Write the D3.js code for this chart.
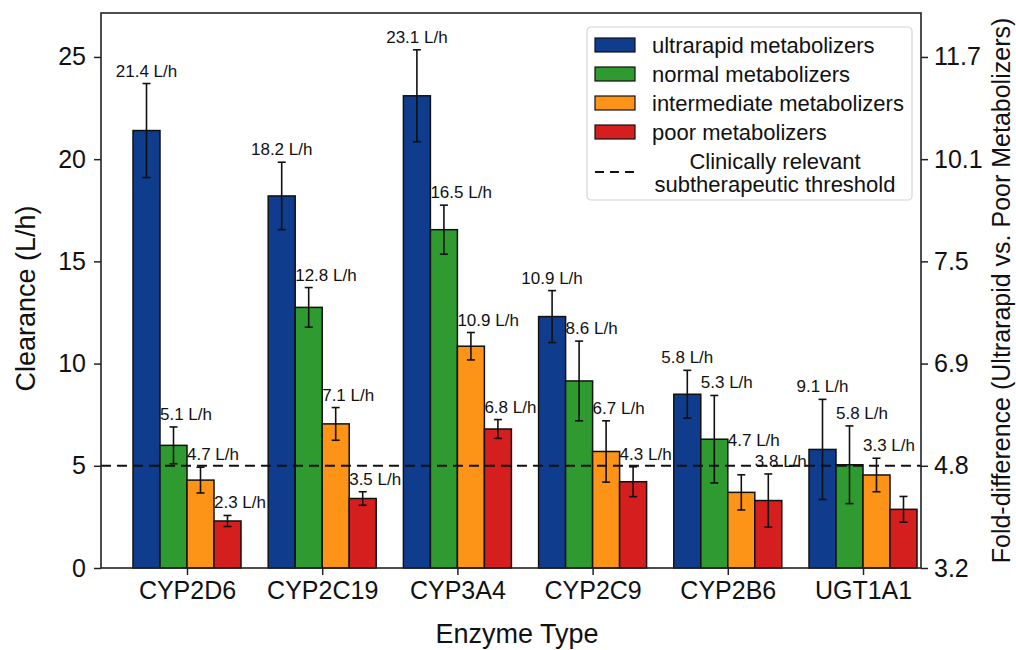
<!DOCTYPE html>
<html>
<head>
<meta charset="utf-8">
<script src="https://cdn.jsdelivr.net/npm/d3@7"></script>
<style>
  body { margin: 0; background: #fff; }
  text { font-family: "Liberation Sans", Arial, sans-serif; fill: #111; }
</style>
</head>
<body>
<script>
var svgWidth = 1016;
var svgHeight = 650;

// data
var categories = ['CYP2D6', 'CYP2C19', 'CYP3A4', 'CYP2C9', 'CYP2B6', 'UGT1A1'];
var seriesNames = ['ultrarapid metabolizers', 'normal metabolizers', 'intermediate metabolizers', 'poor metabolizers'];
var seriesColors = ['#0f3c8c', '#2e9a30', '#fd9317', '#d51e1e'];

var ultrarapid = [21.4, 18.2, 23.1, 12.3, 8.5, 5.8];
var ultrarapidErr = [2.3, 1.65, 2.25, 1.27, 1.17, 2.45];
var normal = [6.0, 12.75, 16.55, 9.15, 6.3, 5.05];
var normalErr = [0.9, 0.97, 1.2, 1.95, 2.14, 1.9];
var intermediate = [4.3, 7.05, 10.85, 5.7, 3.7, 4.55];
var intermediateErr = [0.63, 0.8, 0.67, 1.5, 0.86, 0.82];
var poor = [2.3, 3.4, 6.8, 4.22, 3.3, 2.87];
var poorErr = [0.27, 0.33, 0.46, 0.73, 1.3, 0.63];

var ultrarapidLabels = ['21.4 L/h', '18.2 L/h', '23.1 L/h', '10.9 L/h', '5.8 L/h', '9.1 L/h'];
var normalLabels = ['5.1 L/h', '12.8 L/h', '16.5 L/h', '8.6 L/h', '5.3 L/h', '5.8 L/h'];
var intermediateLabels = ['4.7 L/h', '7.1 L/h', '10.9 L/h', '6.7 L/h', '4.7 L/h', '3.3 L/h'];
var poorLabels = ['2.3 L/h', '3.5 L/h', '6.8 L/h', '4.3 L/h', '3.8 L/h', null];

var threshold = 5;
var leftTicks = [0, 5, 10, 15, 20, 25];
var rightTickLabels = ['3.2', '4.8', '6.9', '7.5', '10.1', '11.7'];

var values = [ultrarapid, normal, intermediate, poor];
var errors = [ultrarapidErr, normalErr, intermediateErr, poorErr];
var labels = [ultrarapidLabels, normalLabels, intermediateLabels, poorLabels];

var margin = {top: 13, right: 95, bottom: 82, left: 101};
var plotW = svgWidth - margin.left - margin.right;
var plotH = svgHeight - margin.top - margin.bottom;

var svg = d3.select('body').append('svg')
  .attr('width', svgWidth)
  .attr('height', svgHeight);

var g = svg.append('g').attr('transform', 'translate(' + margin.left + ',' + margin.top + ')');

var y = d3.scaleLinear().domain([0, 27.15]).range([plotH, 0]);
var x = d3.scalePoint().domain(categories).range([86, 762]);
var xInner = d3.scaleBand().domain(d3.range(seriesNames.length)).range([-54, 54]);

// flatten into bar records
var bars = [];
seriesNames.forEach(function(name, s) {
  categories.forEach(function(cat, i) {
    bars.push({s: s, cat: cat, v: values[s][i], e: errors[s][i], label: labels[s][i]});
  });
});

g.selectAll('rect.bar')
  .data(bars)
  .enter()
  .append('rect')
  .attr('class', 'bar')
  .attr('x', function(d) { return x(d.cat) + xInner(d.s); })
  .attr('y', function(d) { return y(d.v); })
  .attr('width', xInner.bandwidth())
  .attr('height', function(d) { return y(0) - y(d.v); })
  .attr('fill', function(d) { return seriesColors[d.s]; })
  .attr('stroke', '#111')
  .attr('stroke-width', 1.5);

// error bars
var err = g.selectAll('g.err')
  .data(bars)
  .enter()
  .append('g')
  .attr('class', 'err')
  .attr('transform', function(d) { return 'translate(' + (x(d.cat) + xInner(d.s) + xInner.bandwidth() / 2) + ',0)'; });

err.append('line')
  .attr('y1', function(d) { return y(d.v + d.e); })
  .attr('y2', function(d) { return y(d.v - d.e); })
  .attr('stroke', '#111').attr('stroke-width', 1.6);
err.append('line')
  .attr('x1', -4).attr('x2', 4)
  .attr('y1', function(d) { return y(d.v + d.e); })
  .attr('y2', function(d) { return y(d.v + d.e); })
  .attr('stroke', '#111').attr('stroke-width', 1.6);
err.append('line')
  .attr('x1', -4).attr('x2', 4)
  .attr('y1', function(d) { return y(d.v - d.e); })
  .attr('y2', function(d) { return y(d.v - d.e); })
  .attr('stroke', '#111').attr('stroke-width', 1.6);

// value labels: first series centred, others start at bar's left edge
var valLabels = g.selectAll('text.val')
  .data(bars.filter(function(d) { return d.label; }))
  .enter()
  .append('text')
  .attr('class', 'val')
  .attr('x', function(d) {
    var left = x(d.cat) + xInner(d.s);
    return d.s === 0 ? left + xInner.bandwidth() / 2 : left;
  })
  .attr('y', function(d) { return y(d.v + d.e) - 7; })
  .attr('text-anchor', function(d) { return d.s === 0 ? 'middle' : 'start'; })
  .style('font-size', '17px')
  .text(function(d) { return d.label; });

// nudge colliding labels upward, right to left inside each group
categories.forEach(function(cat) {
  var nodes = valLabels.filter(function(d) { return d.cat === cat; }).nodes();
  nodes.sort(function(a, b) { return d3.select(b).datum().s - d3.select(a).datum().s; });
  for (var k = 1; k < nodes.length; k++) {
    var cur = nodes[k].getBBox();
    var nxt = nodes[k - 1].getBBox();
    var overlapX = cur.x + cur.width > nxt.x && nxt.x + nxt.width > cur.x;
    var overlapY = cur.y + cur.height > nxt.y && nxt.y + nxt.height > cur.y;
    if (overlapX && overlapY) {
      var shift = cur.y + cur.height - nxt.y + 2;
      nodes[k].setAttribute('y', +nodes[k].getAttribute('y') - shift);
    }
  }
});

// threshold line
g.append('line')
  .attr('x1', 0).attr('x2', plotW)
  .attr('y1', y(threshold)).attr('y2', y(threshold))
  .attr('stroke', '#111')
  .attr('stroke-width', 2)
  .attr('stroke-dasharray', '10,6');

// axes
var leftAxis = g.append('g')
  .call(d3.axisLeft(y).tickValues(leftTicks).tickSize(7).tickPadding(8));
var rightAxis = g.append('g')
  .attr('transform', 'translate(' + plotW + ',0)')
  .call(d3.axisRight(y).tickValues(leftTicks).tickSize(7).tickPadding(6)
    .tickFormat(function(d, i) { return rightTickLabels[i]; }));
var bottomAxis = g.append('g')
  .attr('transform', 'translate(0,' + plotH + ')')
  .call(d3.axisBottom(x).tickSize(7).tickPadding(6));

[leftAxis, rightAxis, bottomAxis].forEach(function(a) {
  a.select('.domain').remove();
  a.selectAll('line').attr('stroke', '#222').attr('stroke-width', 1.5);
  a.selectAll('text').style('font-size', '25px').attr('fill', '#111')
    .style('font-family', '"Liberation Sans", Arial, sans-serif');
});

// frame
g.append('rect')
  .attr('width', plotW).attr('height', plotH)
  .attr('fill', 'none').attr('stroke', '#222').attr('stroke-width', 1.6);

// axis titles
svg.append('text')
  .attr('transform', 'translate(26,' + (margin.top + plotH / 2 + 8) + ') rotate(-90)')
  .attr('text-anchor', 'middle')
  .attr('dy', '0.35em')
  .style('font-size', '27px')
  .text('Clearance (L/h)');

svg.append('text')
  .attr('x', margin.left + plotW / 2 + 6)
  .attr('y', 643)
  .attr('text-anchor', 'middle')
  .style('font-size', '27px')
  .text('Enzyme Type');

svg.append('text')
  .attr('transform', 'translate(1001,' + (margin.top + plotH / 2) + ') rotate(-90)')
  .attr('text-anchor', 'middle')
  .attr('dy', '0.35em')
  .style('font-size', '25px')
  .text('Fold-difference (Ultrarapid vs. Poor Metabolizers)');

// legend
var legend = svg.append('g').attr('transform', 'translate(587,27)');
legend.append('rect')
  .attr('width', 325).attr('height', 173)
  .attr('rx', 4)
  .attr('fill', '#fff')
  .attr('fill-opacity', 0.85)
  .attr('stroke', '#d4d4d4')
  .attr('stroke-width', 1.2);

var items = legend.selectAll('g.item')
  .data(seriesNames)
  .enter()
  .append('g')
  .attr('transform', function(d, i) { return 'translate(8,' + (18 + i * 29) + ')'; });
items.append('rect')
  .attr('y', -7).attr('width', 40).attr('height', 14)
  .attr('fill', function(d, i) { return seriesColors[i]; })
  .attr('stroke', '#111').attr('stroke-width', 1.2);
items.append('text')
  .attr('x', 57).attr('dy', '0.35em')
  .style('font-size', '22px')
  .text(function(d) { return d; });

legend.append('line')
  .attr('x1', 8).attr('x2', 48)
  .attr('y1', 145).attr('y2', 145)
  .attr('stroke', '#111').attr('stroke-width', 2)
  .attr('stroke-dasharray', '9,6');
var thr = legend.append('text')
  .attr('text-anchor', 'middle')
  .style('font-size', '22px');
thr.append('tspan').attr('x', 188).attr('y', 142).text('Clinically relevant');
thr.append('tspan').attr('x', 188).attr('y', 165).text('subtherapeutic threshold');
</script>
</body>
</html>
